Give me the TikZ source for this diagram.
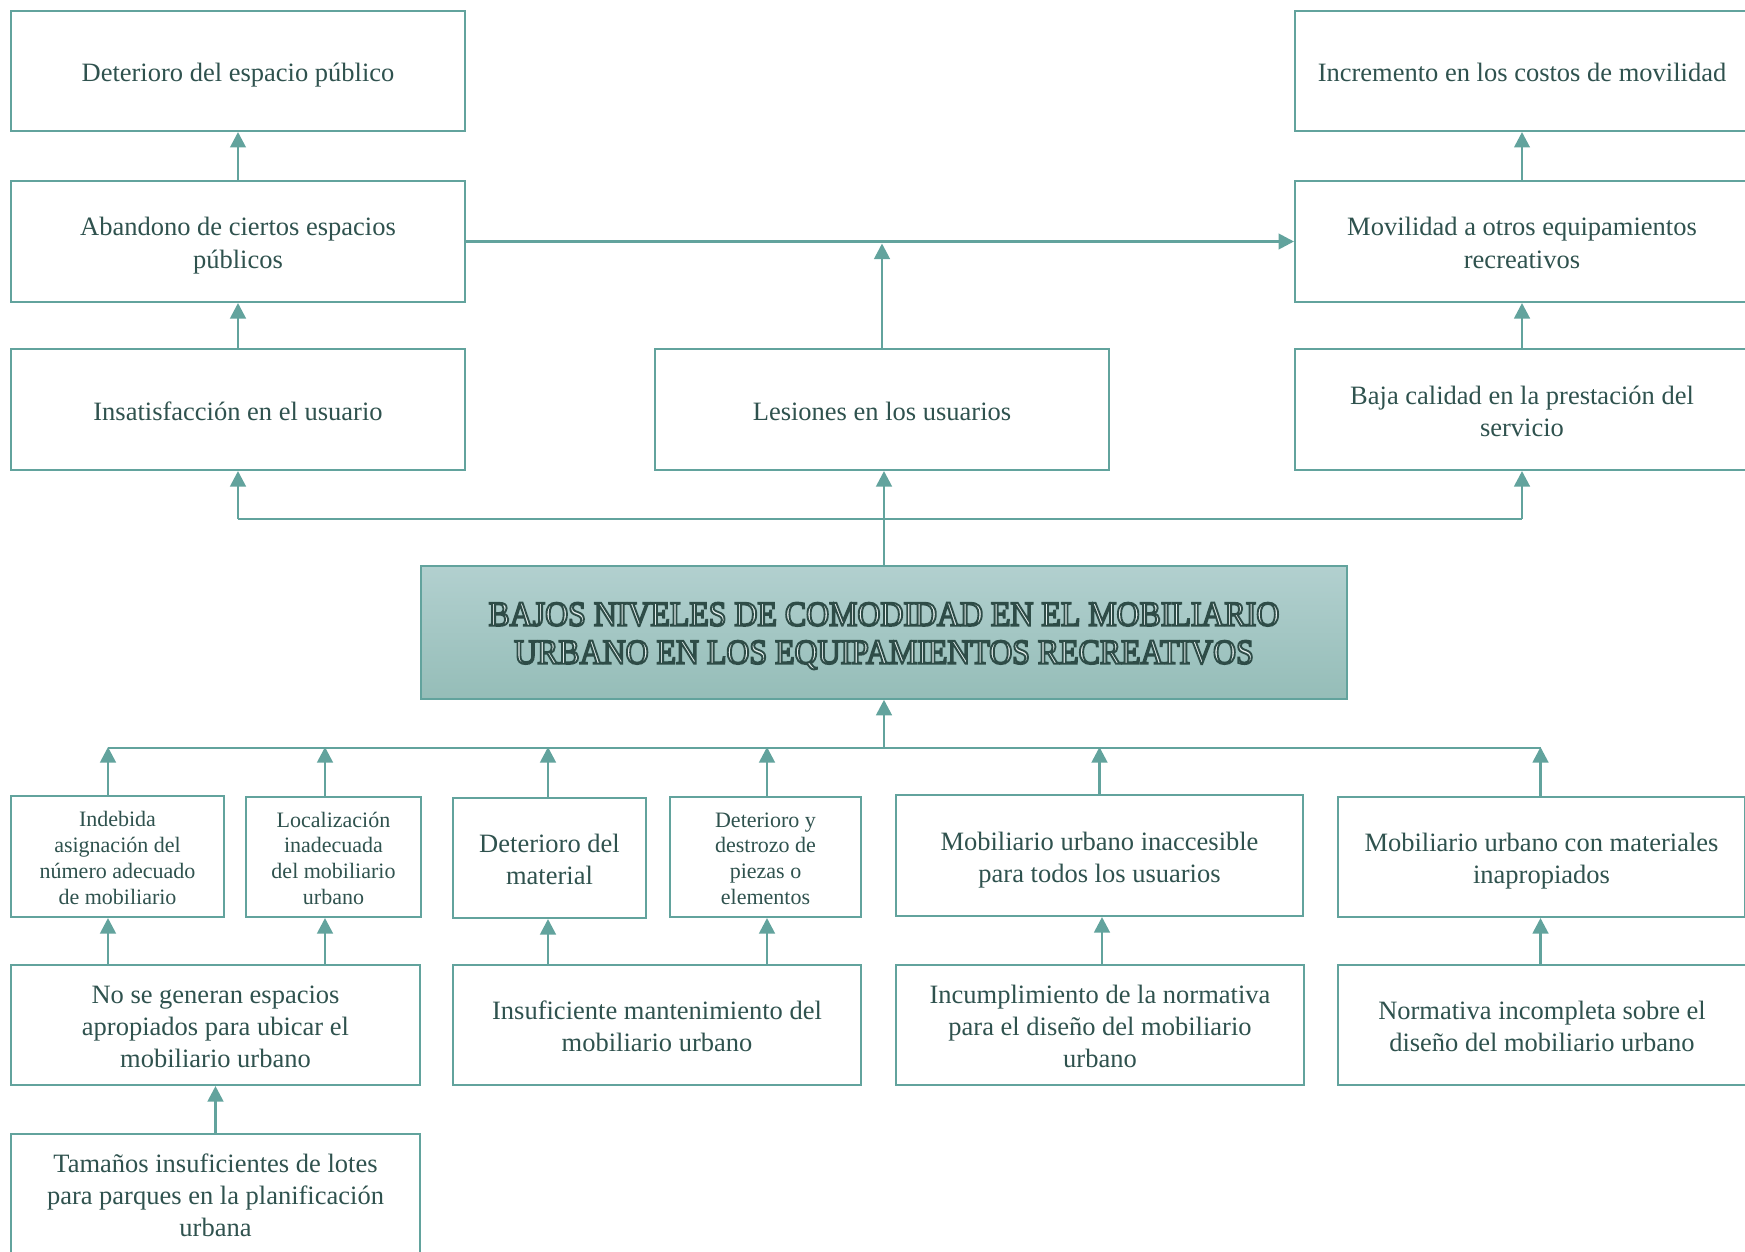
\documentclass[tikz,border=0pt]{standalone}
\usepackage{fontspec}
\setmainfont{Liberation Serif}
\newfontfamily\titlefont[FakeStretch=0.91]{Liberation Serif}
\usetikzlibrary{arrows.meta,calc}
\definecolor{edge}{HTML}{62A39D}
\definecolor{ink}{HTML}{2F524E}
\definecolor{titlelight}{HTML}{E4EEED}
\definecolor{topfill}{HTML}{B2D0CF}
\definecolor{botfill}{HTML}{95BDB8}
\newcommand\engraved[1]{\special{pdf:literal direct 2 Tr 1.9 w 0.18 0.30 0.28 RG}#1\special{pdf:literal direct 0 Tr}}
\newcommand\sa{\rule{0pt}{1.02em}}
\newcommand\sz{\rule[-0.22em]{0pt}{0pt}}
\begin{document}
\begin{tikzpicture}[x=1pt,y=-1pt,
  box/.style={draw=edge, line width=2pt, fill=white, text=ink, align=center, inner sep=0pt,
    font=\fontsize{26.5}{32.2}\selectfont},
  small/.style={font=\fontsize{22}{25.8}\selectfont},
  conn/.style={draw=edge, line width=2.8pt},
  arr/.style={conn, -{Triangle[length=15.5pt,width=15.5pt]}}]
\useasboundingbox (0,0) rectangle (1745,1252);

% top area
\node[box, minimum width=454, minimum height=120] (dep) at (238,71) {\sa Deterioro del espacio público\sz};
\node[box, minimum width=454, minimum height=121] (aba) at (238,241.5) {\sa Abandono de ciertos espacios\\públicos\sz};
\node[box, minimum width=454, minimum height=121] (ins) at (238,409.5) {\sa Insatisfacción en el usuario\sz};
\node[box, minimum width=454, minimum height=121] (les) at (882,409.5) {\sa Lesiones en los usuarios\sz};
\node[box, minimum width=454, minimum height=120] (inc) at (1522,71) {\sa Incremento en los costos de movilidad\sz};
\node[box, minimum width=454, minimum height=121] (mov) at (1522,241.5) {\sa Movilidad a otros equipamientos\\recreativos\sz};
\node[box, minimum width=454, minimum height=121] (baj) at (1522,409.5) {\sa Baja calidad en la prestación del\\servicio\sz};

% central problem
\node[draw=edge, line width=1.5pt, top color=topfill, bottom color=botfill, text=titlelight,
  align=center, inner sep=0pt, minimum width=926, minimum height=133,
  font=\titlefont\fontsize{35}{38}\selectfont] (main) at (884,632.5)
  {\rule{0pt}{0.9em}\engraved{BAJOS NIVELES DE COMODIDAD EN EL MOBILIARIO\\URBANO EN LOS EQUIPAMIENTOS RECREATIVOS}\rule[-0.2em]{0pt}{0pt}};

% row 1 causes
\node[box, small, minimum width=213, minimum height=121] (indeb) at (117.5,856.5) {\sa Indebida\\asignación del\\número adecuado\\de mobiliario\sz};
\node[box, small, minimum width=175, minimum height=120] (loc) at (333.5,857) {\sa Localización\\inadecuada\\del mobiliario\\urbano\sz};
\node[box, minimum width=193, minimum height=120] (detmat) at (549.5,858) {\sa Deterioro del\\material\sz};
\node[box, small, minimum width=191, minimum height=120] (detdes) at (765.5,857) {\sa Deterioro y\\destrozo de\\piezas o\\elementos\sz};
\node[box, minimum width=407, minimum height=121] (mobinac) at (1099.5,855.5) {\sa Mobiliario urbano inaccesible\\para todos los usuarios\sz};
\node[box, minimum width=407, minimum height=120] (mobmat) at (1541.5,857) {\sa Mobiliario urbano con materiales\\inapropiados\sz};

% row 2 causes
\node[box, minimum width=409, minimum height=120] (nose) at (215.5,1025) {\sa No se generan espacios\\apropiados para ubicar el\\mobiliario urbano\sz};
\node[box, minimum width=408, minimum height=120] (insuf) at (657,1025) {\sa Insuficiente mantenimiento del\\mobiliario urbano\sz};
\node[box, minimum width=408, minimum height=120] (incum) at (1100,1025) {\sa Incumplimiento de la normativa\\para el diseño del mobiliario\\urbano\sz};
\node[box, minimum width=408, minimum height=120] (norm) at (1542,1025) {\sa Normativa incompleta sobre el\\diseño del mobiliario urbano\sz};

% row 3
\node[box, minimum width=409, minimum height=120] (tam) at (215.5,1194) {\sa Tamaños insuficientes de lotes\\para parques en la planificación\\urbana\sz};

% top connectors
\coordinate (busT) at (0,519);
\draw[conn] (ins.south |- busT) -- (baj.south |- busT);
\draw[arr] (ins.south |- busT) -- (ins.south);
\draw[arr] (baj.south |- busT) -- (baj.south);
\draw[arr] (main.north) -- (main.north |- les.south);
\draw[arr] (ins.north) -- (aba.south);
\draw[arr] (aba.north) -- (dep.south);
\draw[arr] (baj.north) -- (mov.south);
\draw[arr] (mov.north) -- (inc.south);
\draw[arr] (aba.east) -- (mov.west);
\draw[arr, shorten >=2pt] (les.north) -- (les.north |- aba.east);

% bottom connectors
\coordinate (busB) at (0,748);
\coordinate (a1) at ([xshift=-9.5pt]indeb.north);
\coordinate (a2) at ([xshift=-8.5pt]loc.north);
\coordinate (a3) at ([xshift=-1.5pt]detmat.north);
\coordinate (a4) at ([xshift=1.5pt]detdes.north);
\coordinate (a5) at (mobinac.north);
\coordinate (a6) at ([xshift=-1pt]mobmat.north);
\draw[conn] (a1 |- busB) -- (a6 |- busB);
\draw[arr] (busB -| main.south) -- (main.south);
\foreach \c in {a1,a2,a3,a4,a5,a6}
  \draw[arr, shorten >=-1pt] (\c) -- (\c |- busB);

\draw[arr] (a1 |- nose.north) -- (a1 |- indeb.south);
\draw[arr] (a2 |- nose.north) -- (a2 |- loc.south);
\draw[arr] (a3 |- insuf.north) -- (a3 |- detmat.south);
\draw[arr] (a4 |- insuf.north) -- (a4 |- detdes.south);
\draw[arr] ([xshift=2pt]incum.north) -- ([xshift=2pt]incum.north |- mobinac.south);
\draw[arr] (a6 |- norm.north) -- (a6 |- mobmat.south);
\draw[arr] (tam.north) -- (nose.south);
\end{tikzpicture}
\end{document}
